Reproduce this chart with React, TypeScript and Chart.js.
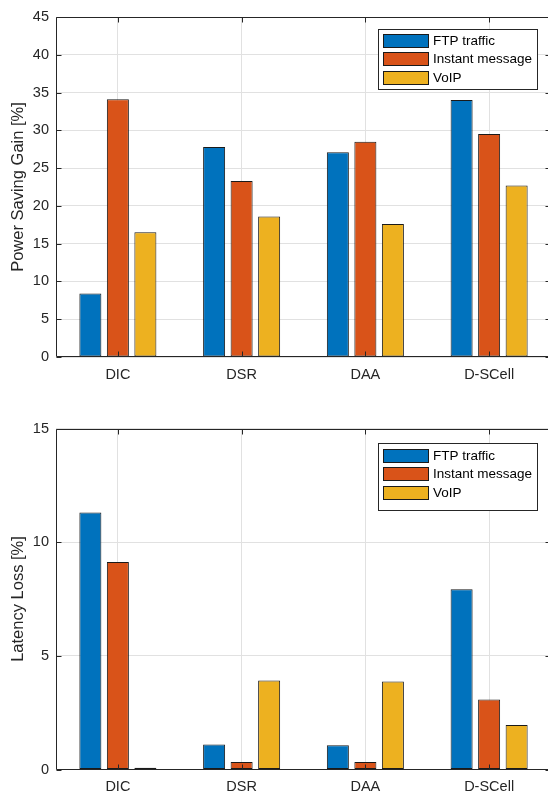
import React, { useEffect, useRef } from 'react';
import { Chart, registerables } from 'chart.js';

Chart.register(...registerables);

const categories = ['DIC', 'DSR', 'DAA', 'D-SCell'];
const seriesNames = ['FTP traffic', 'Instant message', 'VoIP'];
const seriesColors = ['#0072BD', '#D95319', '#EDB120'];

const powerFTP = [8.4, 27.8, 27.1, 34.0];
const powerIM = [34.1, 23.3, 28.5, 29.5];
const powerVoIP = [16.5, 18.6, 17.6, 22.7];

const latencyFTP = [11.3, 1.1, 1.07, 7.93];
const latencyIM = [9.13, 0.33, 0.33, 3.08];
const latencyVoIP = [0.08, 3.92, 3.87, 1.96];

const powerAxis = { min: 0, max: 45, step: 5, title: 'Power Saving Gain [%]' };
const latencyAxis = { min: 0, max: 15, step: 5, title: 'Latency Loss [%]' };

const FONT = "'Liberation Sans', Arial, Helvetica, sans-serif";
const AXIS_COLOR = '#262626';
const GRID_COLOR = '#e1e1e1';

const matlabPlugin = {
  id: 'matlabAxes',
  afterDatasetsDraw(chart: any, _args: any, opts: any) {
    const { ctx, chartArea } = chart;
    const { left, right, top, bottom } = chartArea;
    const xs = chart.scales.x;
    const ys = chart.scales.y;
    const L = Math.round(left) + 0.5;
    const R = Math.round(right) - 0.5;
    const T = Math.round(top) + 0.5;
    const B = Math.round(bottom) - 0.5;
    ctx.save();
    ctx.strokeStyle = AXIS_COLOR;
    ctx.lineWidth = 1;
    ctx.beginPath();
    ys.ticks.forEach((_t: any, i: number) => {
      const py = Math.round(ys.getPixelForTick(i)) + 0.5;
      ctx.moveTo(L, py);
      ctx.lineTo(L + 5, py);
      ctx.moveTo(R, py);
      ctx.lineTo(R - 5, py);
    });
    xs.ticks.forEach((_t: any, i: number) => {
      const px = Math.round(xs.getPixelForTick(i)) + 0.5;
      ctx.moveTo(px, B);
      ctx.lineTo(px, B - 5);
      ctx.moveTo(px, T);
      ctx.lineTo(px, T + 5);
    });
    ctx.stroke();
    ctx.beginPath();
    ctx.moveTo(L, T);
    ctx.lineTo(R, T);
    ctx.lineTo(R, B);
    ctx.lineTo(L, B);
    ctx.closePath();
    ctx.stroke();

    // legend box
    const bx = Math.round(right - opts.boxRight) + 0.5;
    const by = Math.round(top + opts.boxTop) + 0.5;
    const bw = opts.boxW;
    const bh = opts.boxH;
    ctx.fillStyle = '#ffffff';
    ctx.fillRect(bx, by, bw, bh);
    ctx.strokeStyle = AXIS_COLOR;
    ctx.strokeRect(bx, by, bw, bh);
    ctx.font = `13.5px ${FONT}`;
    ctx.textBaseline = 'middle';
    ctx.textAlign = 'left';
    chart.data.datasets.forEach((ds: any, i: number) => {
      const sy = Math.round(by + opts.firstRow + i * opts.rowPitch);
      const sx = Math.round(bx + 4.5);
      ctx.fillStyle = ds.backgroundColor;
      ctx.fillRect(sx, sy, 45, 13);
      ctx.strokeStyle = '#1a1a1a';
      ctx.strokeRect(sx + 0.5, sy + 0.5, 45, 13);
      ctx.fillStyle = '#000000';
      ctx.fillText(ds.label, bx + 54.5, sy + 7);
    });
    ctx.restore();
  },
};

function makeConfig(
  series: number[][],
  axis: { min: number; max: number; step: number; title: string },
  padTop: number,
  xHeight: number,
  legendOpts: any
): any {
  return {
    type: 'bar',
    data: {
      labels: categories,
      datasets: series.map((vals, i) => ({
        label: seriesNames[i],
        data: vals,
        backgroundColor: seriesColors[i],
        borderColor: '#1a1a1a',
        borderWidth: 1,
        borderSkipped: false,
        barPercentage: 0.8,
        categoryPercentage: 0.667,
      })),
    },
    options: {
      animation: false,
      responsive: false,
      devicePixelRatio: 1,
      layout: { padding: { top: padTop, right: 5, left: 0, bottom: 0 } },
      plugins: {
        legend: { display: false },
        tooltip: { enabled: false },
        matlabAxes: legendOpts,
      },
      scales: {
        x: {
          offset: true,
          grid: { offset: false, color: GRID_COLOR, drawTicks: false },
          border: { display: false },
          ticks: {
            font: { family: FONT, size: 14.5 },
            color: AXIS_COLOR,
            padding: 9,
            maxRotation: 0,
          },
          afterFit: (s: any) => {
            s.height = xHeight;
          },
        },
        y: {
          min: axis.min,
          max: axis.max,
          ticks: {
            stepSize: axis.step,
            font: { family: FONT, size: 14.5 },
            color: AXIS_COLOR,
            padding: 7,
          },
          grid: { color: GRID_COLOR, drawTicks: false },
          border: { display: false },
          title: {
            display: true,
            text: axis.title,
            font: { family: FONT, size: 16.5 },
            color: AXIS_COLOR,
            padding: { top: 9, bottom: 0 },
          },
          afterFit: (s: any) => {
            s.width = 56;
          },
        },
      },
    },
    plugins: [matlabPlugin],
  };
}

export default function App() {
  const topRef = useRef<HTMLCanvasElement>(null);
  const botRef = useRef<HTMLCanvasElement>(null);

  useEffect(() => {
    const c1 = new Chart(
      topRef.current as HTMLCanvasElement,
      makeConfig([powerFTP, powerIM, powerVoIP], powerAxis, 17, 40, {
        boxRight: 173,
        boxTop: 12,
        boxW: 159,
        boxH: 60,
        firstRow: 4.3,
        rowPitch: 18.6,
      })
    );
    const c2 = new Chart(
      botRef.current as HTMLCanvasElement,
      makeConfig([latencyFTP, latencyIM, latencyVoIP], latencyAxis, 31.5, 24.5, {
        boxRight: 173,
        boxTop: 14.8,
        boxW: 159,
        boxH: 67,
        firstRow: 5,
        rowPitch: 18.6,
      })
    );
    return () => {
      c1.destroy();
      c2.destroy();
    };
  }, []);

  return (
    <div
      style={{
        position: 'absolute',
        left: 0,
        top: 0,
        width: 548,
        height: 794,
        overflow: 'hidden',
        background: '#ffffff',
      }}
    >
      <canvas
        ref={topRef}
        width={556}
        height={397}
        style={{ position: 'absolute', left: 0, top: 0, width: 556, height: 397 }}
      />
      <canvas
        ref={botRef}
        width={556}
        height={397}
        style={{ position: 'absolute', left: 0, top: 397, width: 556, height: 397 }}
      />
    </div>
  );
}
